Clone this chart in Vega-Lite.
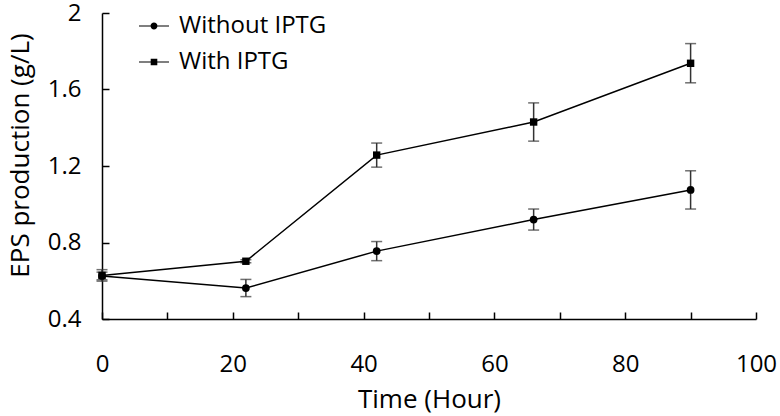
{
  "$schema": "https://vega.github.io/schema/vega-lite/v6.json",
  "width": 654,
  "height": 306,
  "autosize": "none",
  "padding": {"left": 102, "top": 13, "right": 24, "bottom": 97},
  "background": "white",
  "config": {
    "view": {"stroke": null},
    "font": "Open Sans",
    "axis": {
      "grid": false,
      "domainColor": "#000",
      "domainWidth": 1.5,
      "tickColor": "#000",
      "tickWidth": 1.5,
      "tickSize": -7,
      "labelFontSize": 24,
      "labelColor": "#000",
      "titleFontSize": 26,
      "titleFontWeight": "normal",
      "titleColor": "#000"
    }
  },
  "data": {
    "values": [
      {"time": 0, "series": "Without IPTG", "eps": 0.625, "lo": 0.605, "hi": 0.645},
      {"time": 22, "series": "Without IPTG", "eps": 0.562, "lo": 0.517, "hi": 0.607},
      {"time": 42, "series": "Without IPTG", "eps": 0.755, "lo": 0.705, "hi": 0.805},
      {"time": 66, "series": "Without IPTG", "eps": 0.92, "lo": 0.865, "hi": 0.975},
      {"time": 90, "series": "Without IPTG", "eps": 1.075, "lo": 0.975, "hi": 1.175},
      {"time": 0, "series": "With IPTG", "eps": 0.628, "lo": 0.598, "hi": 0.658},
      {"time": 22, "series": "With IPTG", "eps": 0.702, "lo": 0.694, "hi": 0.71},
      {"time": 42, "series": "With IPTG", "eps": 1.257, "lo": 1.194, "hi": 1.32},
      {"time": 66, "series": "With IPTG", "eps": 1.43, "lo": 1.33, "hi": 1.53},
      {"time": 90, "series": "With IPTG", "eps": 1.737, "lo": 1.635, "hi": 1.84}
    ]
  },
  "encoding": {
    "x": {
      "field": "time", "type": "quantitative",
      "scale": {"domain": [0, 100], "nice": false, "zero": false},
      "axis": {
        "title": "Time (Hour)",
        "values": [0, 10, 20, 30, 40, 50, 60, 70, 80, 90, 100],
        "labelExpr": "datum.value % 20 == 0 ? datum.label : ''",
        "labelPadding": 40,
        "titlePadding": 10,
        "labelFlush": false
      }
    }
  },
  "layer": [
    {
      "mark": {"type": "rule", "color": "#333", "strokeWidth": 1.5},
      "encoding": {
        "y": {"field": "lo", "type": "quantitative"},
        "y2": {"field": "hi"}
      }
    },
    {
      "mark": {"type": "tick", "orient": "horizontal", "color": "#333", "size": 11, "thickness": 1.5},
      "encoding": {"y": {"field": "lo", "type": "quantitative"}}
    },
    {
      "mark": {"type": "tick", "orient": "horizontal", "color": "#333", "size": 11, "thickness": 1.5},
      "encoding": {"y": {"field": "hi", "type": "quantitative"}}
    },
    {
      "mark": {"type": "line", "color": "#000", "strokeWidth": 1.5},
      "encoding": {
        "y": {
          "field": "eps", "type": "quantitative",
          "scale": {"domain": [0.4, 2], "nice": false, "zero": false},
          "axis": {
            "title": "EPS production (g/L)",
            "values": [0.4, 0.6, 0.8, 1.0, 1.2, 1.4, 1.6, 1.8, 2.0],
            "format": ".1~f",
            "labelExpr": "round(datum.value * 10) % 4 == 0 ? datum.label : ''",
            "labelPadding": 28,
            "titlePadding": 14,
            "titleY": 142,
            "labelFlush": false
          }
        },
        "detail": {"field": "series"}
      }
    },
    {
      "transform": [{"filter": "datum.series == 'Without IPTG'"}],
      "mark": {"type": "point", "filled": true, "shape": "circle", "color": "#000", "opacity": 1, "size": 60},
      "encoding": {"y": {"field": "eps", "type": "quantitative"}}
    },
    {
      "transform": [{"filter": "datum.series == 'With IPTG'"}],
      "mark": {"type": "point", "filled": true, "shape": "square", "color": "#000", "opacity": 1, "size": 55},
      "encoding": {"y": {"field": "eps", "type": "quantitative"}}
    },
    {
      "transform": [{"filter": "datum.time < 0"}],
      "mark": {"type": "point", "filled": true, "color": "#000", "opacity": 1},
      "encoding": {
        "y": {"field": "eps", "type": "quantitative"},
        "shape": {
          "field": "series", "type": "nominal",
          "scale": {
            "domain": ["Without IPTG", "With IPTG"],
            "range": [
              "M-1,-0.04L1,-0.04L1,0.04L-1,0.04ZM0.23,0A0.23,0.23,0,1,1,-0.23,0A0.23,0.23,0,1,1,0.23,0Z",
              "M-1,-0.04L1,-0.04L1,0.04L-1,0.04ZM-0.22,-0.22L0.22,-0.22L0.22,0.22L-0.22,0.22Z"
            ]
          },
          "legend": {
            "title": null,
            "orient": "none",
            "legendX": 36,
            "legendY": -3,
            "padding": 0,
            "labelFontSize": 24,
            "labelColor": "#000",
            "labelOffset": 9,
            "symbolSize": 900,
            "rowPadding": 8,
            "symbolFillColor": "#000",
            "symbolOpacity": 1
          }
        }
      }
    }
  ]
}
